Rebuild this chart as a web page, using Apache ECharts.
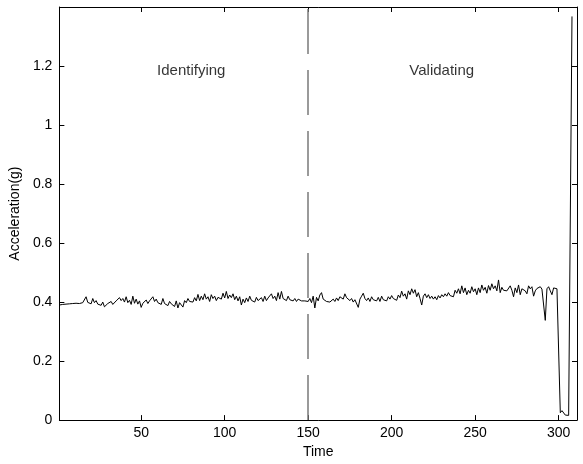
<!DOCTYPE html>
<html>
<head>
<meta charset="utf-8">
<script src="https://cdn.jsdelivr.net/npm/echarts@6/dist/echarts.min.js"></script>
<style>
  html, body { margin: 0; padding: 0; background: #fff; }
  #chart { width: 583px; height: 464px; }
</style>
</head>
<body>
<div id="chart"></div>
<script>
// ── Data ──
const accel = [
  0.390,0.391,0.392,0.392,0.393,0.392,0.394,0.393,0.395,0.394,
  0.396,0.394,0.395,0.393,0.398,0.396,0.418,0.399,0.402,0.394,
  0.412,0.398,0.405,0.393,0.396,0.389,0.400,0.384,0.383,0.395,
  0.390,0.402,0.392,0.398,0.404,0.401,0.415,0.405,0.412,0.400,
  0.418,0.398,0.406,0.392,0.420,0.396,0.410,0.393,0.404,0.382,
  0.396,0.400,0.407,0.395,0.404,0.398,0.418,0.402,0.410,0.398,
  0.404,0.392,0.412,0.395,0.400,0.388,0.402,0.394,0.398,0.385,
  0.404,0.380,0.398,0.392,0.383,0.405,0.398,0.412,0.402,0.408,
  0.400,0.415,0.404,0.426,0.405,0.420,0.408,0.428,0.410,0.418,
  0.402,0.425,0.412,0.420,0.405,0.416,0.422,0.410,0.430,0.414,
  0.436,0.412,0.424,0.415,0.428,0.408,0.420,0.404,0.418,0.390,
  0.410,0.398,0.414,0.402,0.420,0.406,0.412,0.400,0.416,0.405,
  0.408,0.415,0.402,0.420,0.405,0.414,0.410,0.428,0.412,0.420,
  0.405,0.432,0.410,0.436,0.412,0.418,0.405,0.420,0.408,0.414,
  0.404,0.412,0.402,0.410,0.406,0.404,0.400,0.404,0.405,0.402,
  0.412,0.398,0.420,0.380,0.416,0.404,0.424,0.432,0.410,0.415,
  0.402,0.408,0.400,0.404,0.410,0.402,0.414,0.405,0.418,0.420,
  0.410,0.428,0.415,0.420,0.405,0.412,0.400,0.408,0.402,0.382,
  0.410,0.420,0.430,0.412,0.405,0.414,0.402,0.418,0.408,0.412,
  0.404,0.416,0.402,0.420,0.408,0.414,0.404,0.418,0.410,0.422,
  0.412,0.418,0.406,0.424,0.415,0.437,0.420,0.428,0.410,0.438,
  0.425,0.445,0.430,0.442,0.418,0.432,0.412,0.390,0.420,0.428,
  0.415,0.425,0.412,0.420,0.410,0.418,0.408,0.422,0.414,0.425,
  0.418,0.428,0.420,0.432,0.422,0.428,0.418,0.440,0.430,0.445,
  0.428,0.455,0.432,0.448,0.425,0.440,0.430,0.452,0.435,0.445,
  0.425,0.448,0.432,0.458,0.440,0.450,0.430,0.456,0.440,0.462,
  0.445,0.455,0.438,0.475,0.432,0.450,0.440,0.445,0.438,0.432,
  0.455,0.440,0.418,0.448,0.432,0.458,0.425,0.445,0.450,0.438,
  0.428,0.455,0.445,0.452,0.420,0.438,0.446,0.440,0.452,0.444,
  0.448,0.338,0.445,0.452,0.438,0.425,0.448,0.452,0.445,0.440,
  0.025,0.032,0.030,0.017,0.016,0.016,0.016,1.368
];
const xTicks = [50, 100, 150, 200, 250, 300];
const yTicks = [0, 0.2, 0.4, 0.6, 0.8, 1, 1.2];
const phaseSplit = 150;
const phaseNames = ['Identifying', 'Validating'];
const phaseLabelX = [80, 230];
const phaseLabelY = [1.185, 1.185];

const FONT = '"Liberation Sans", Arial, Helvetica, sans-serif';
const X_MIN = 1, X_MAX = 311, Y_MIN = 0, Y_MAX = 1.4;

const chart = echarts.init(document.getElementById('chart'));

// sample number on x, acceleration on y
const linePts = accel.map((v, i) => [i + 1, v]);
const labelPts = phaseNames.map((n, i) => ({ name: n, value: [phaseLabelX[i], phaseLabelY[i]] }));

const axLine = { show: true, onZero: false, lineStyle: { color: '#000', width: 1 } };
const tickIn = vals => ({ show: true, inside: true, length: 5, customValues: vals, lineStyle: { color: '#000', width: 1 } });

const option = {
  backgroundColor: '#fff',
  animation: false,
  grid: { left: 59, right: 6, top: 7, bottom: 42, containLabel: false },
  xAxis: [
    { type: 'value', min: X_MIN, max: X_MAX, position: 'bottom',
      axisLine: axLine, axisTick: tickIn(xTicks), splitLine: { show: false },
      axisLabel: { customValues: xTicks, color: '#000', fontSize: 14, fontFamily: FONT, margin: 6 },
      name: 'Time', nameLocation: 'middle', nameGap: 23,
      nameTextStyle: { color: '#000', fontSize: 14, fontFamily: FONT } },
    { type: 'value', min: X_MIN, max: X_MAX, position: 'top',
      axisLine: axLine, axisTick: tickIn(xTicks), splitLine: { show: false },
      axisLabel: { show: false } },
  ],
  yAxis: [
    { type: 'value', min: Y_MIN, max: Y_MAX, position: 'left',
      axisLine: axLine, axisTick: tickIn(yTicks), splitLine: { show: false },
      axisLabel: { customValues: yTicks, color: '#000', fontSize: 14, fontFamily: FONT, margin: 7 },
      name: 'Acceleration(g)', nameLocation: 'middle', nameGap: 36,
      nameTextStyle: { color: '#000', fontSize: 14, fontFamily: FONT } },
    { type: 'value', min: Y_MIN, max: Y_MAX, position: 'right',
      axisLine: axLine, axisTick: tickIn(yTicks), splitLine: { show: false },
      axisLabel: { show: false } },
  ],
  series: [
    { name: 'Acceleration', type: 'line', data: linePts,
      xAxisIndex: 0, yAxisIndex: 0,
      symbol: 'none', lineStyle: { color: '#000', width: 1 },
      markLine: {
        silent: true, symbol: ['none', 'none'], label: { show: false },
        lineStyle: { type: [45, 16], color: '#7a7a7a', width: 1.5 },
        data: [{ xAxis: phaseSplit }],
      },
    },
    { name: 'Phase', type: 'scatter', data: labelPts,
      xAxisIndex: 0, yAxisIndex: 0, symbolSize: 0, silent: true,
      label: { show: true, position: 'inside', formatter: '{b}', color: '#000', fontSize: 15, fontFamily: FONT } },
  ],
};

chart.setOption(option);
</script>
</body>
</html>
